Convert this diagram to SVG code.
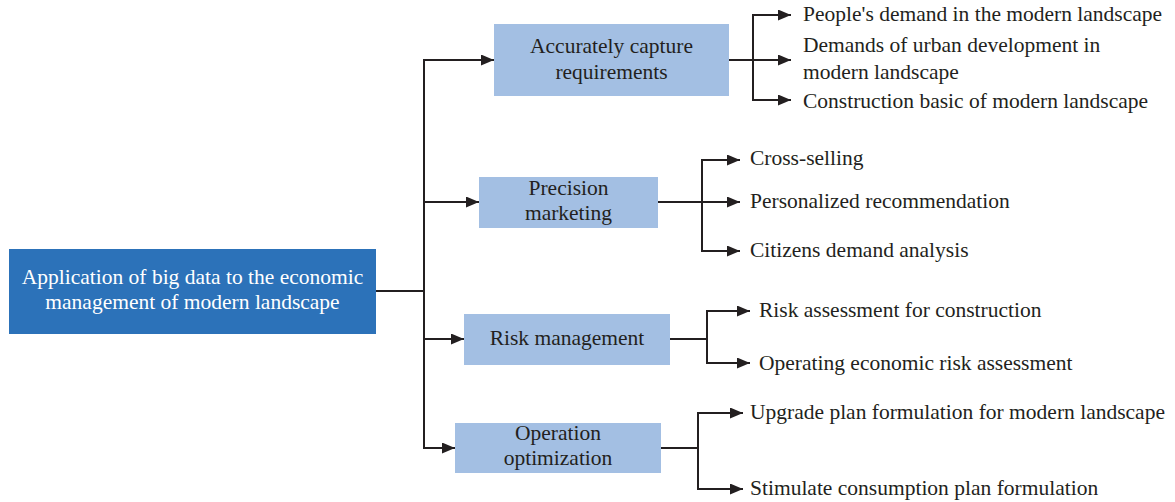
<svg xmlns="http://www.w3.org/2000/svg" width="1175" height="502" viewBox="0 0 1175 502">
  <style>
    .box { fill: #A3BFE3; }
    .root { fill: #2C72B9; }
    .t { font-family: "Liberation Serif", "Times New Roman", serif; font-size: 21.5px; fill: #231F20; }
    .tc { text-anchor: middle; }
    .tw { fill: #FFFFFF; }
    .ln { fill: none; stroke: #231F20; stroke-width: 2; }
    .ar { fill: none; stroke: #231F20; stroke-width: 2; marker-end: url(#head); }
  </style>
  <defs>
    <marker id="head" markerWidth="13" markerHeight="11" refX="13" refY="5.5" orient="auto" markerUnits="userSpaceOnUse">
      <path d="M0,0 L13,5.5 L0,11 Z" fill="#231F20"/>
    </marker>
  </defs>

  <rect width="1175" height="502" fill="#FFFFFF"/>

  <!-- connectors -->
  <g id="connectors">
    <!-- root to main spine -->
    <path class="ln" d="M376,291 H424"/>
    <path class="ln" d="M424,60 V448"/>
    <path class="ar" d="M423,60 H494"/>
    <path class="ar" d="M423,202 H479"/>
    <path class="ar" d="M423,339 H464"/>
    <path class="ar" d="M423,448 H455"/>

    <!-- capture requirements -->
    <path class="ln" d="M729,60 H753"/>
    <path class="ln" d="M753,15 V100"/>
    <path class="ar" d="M752,15 H791"/>
    <path class="ar" d="M753,60 H791"/>
    <path class="ar" d="M752,100 H791"/>

    <!-- precision marketing -->
    <path class="ln" d="M658,202 H702"/>
    <path class="ln" d="M702,160 V251"/>
    <path class="ar" d="M701,160 H740"/>
    <path class="ar" d="M702,202 H740"/>
    <path class="ar" d="M701,251 H740"/>

    <!-- risk management -->
    <path class="ln" d="M670,339 H707"/>
    <path class="ln" d="M707,311 V364"/>
    <path class="ar" d="M706,311 H750"/>
    <path class="ar" d="M706,363 H750"/>

    <!-- operation optimization -->
    <path class="ln" d="M661,448 H698"/>
    <path class="ln" d="M698,413 V490"/>
    <path class="ar" d="M697,413 H743"/>
    <path class="ar" d="M697,489 H743"/>
  </g>

  <g id="root">
    <rect class="root" x="9" y="249" width="367" height="85"/>
    <text class="t tc tw" x="192.5" y="284">Application of big data to the economic</text>
    <text class="t tc tw" x="192.5" y="309">management of modern landscape</text>
  </g>

  <g id="capture">
    <rect class="box" x="494" y="24" width="235" height="72"/>
    <text class="t tc" x="611.5" y="53">Accurately capture</text>
    <text class="t tc" x="611.5" y="79">requirements</text>
  </g>

  <g id="marketing">
    <rect class="box" x="479" y="177" width="179" height="51"/>
    <text class="t tc" x="568.5" y="195">Precision</text>
    <text class="t tc" x="568.5" y="220">marketing</text>
  </g>

  <g id="risk">
    <rect class="box" x="464" y="314" width="206" height="51"/>
    <text class="t tc" x="567" y="345">Risk management</text>
  </g>

  <g id="operation">
    <rect class="box" x="455" y="423" width="206" height="50"/>
    <text class="t tc" x="558" y="440">Operation</text>
    <text class="t tc" x="558" y="465">optimization</text>
  </g>

  <g id="capture-items">
    <text class="t" x="803" y="21">People's demand in the modern landscape</text>
    <text class="t" x="803" y="52">Demands of urban development in</text>
    <text class="t" x="803" y="79">modern landscape</text>
    <text class="t" x="803" y="108">Construction basic of modern landscape</text>
  </g>

  <g id="marketing-items">
    <text class="t" x="750" y="165">Cross-selling</text>
    <text class="t" x="750" y="208">Personalized recommendation</text>
    <text class="t" x="750" y="257">Citizens demand analysis</text>
  </g>

  <g id="risk-items">
    <text class="t" x="759" y="317">Risk assessment for construction</text>
    <text class="t" x="759" y="370">Operating economic risk assessment</text>
  </g>

  <g id="operation-items">
    <text class="t" x="750" y="419">Upgrade plan formulation for modern landscape</text>
    <text class="t" x="750" y="495">Stimulate consumption plan formulation</text>
  </g>
</svg>
